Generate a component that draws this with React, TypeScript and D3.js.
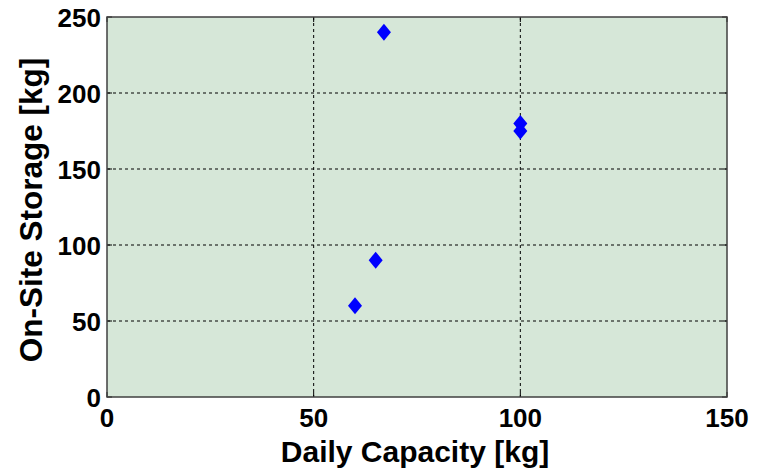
import React from "react";
import * as d3 from "d3";

const capacity = [60, 65, 67, 100, 100];
const storage = [60, 90, 240, 180, 175];
const xTicks = [0, 50, 100, 150];
const yTicks = [0, 50, 100, 150, 200, 250];

const W = 766;
const H = 469;
const M = { left: 107, right: 727, top: 17, bottom: 397 };
const FONT = "'Liberation Sans', Arial, sans-serif";

export default function App() {
  const x = d3.scaleLinear().domain([0, 150]).range([M.left, M.right]);
  const y = d3.scaleLinear().domain([0, 250]).range([M.bottom, M.top]);
  const diamond = (cx: number, cy: number) =>
    `M${cx},${cy - 8.5}L${cx + 7},${cy}L${cx},${cy + 8.5}L${cx - 7},${cy}Z`;
  return (
    <svg width={W} height={H} style={{ position: "absolute", left: 0, top: 0 }}>
      <rect x={0} y={0} width={W} height={H} fill="#ffffff" />
      <rect
        x={M.left}
        y={M.top}
        width={M.right - M.left}
        height={M.bottom - M.top}
        fill="#d6e7d8"
      />
      {xTicks.slice(1, -1).map((t) => (
        <line
          key={"gx" + t}
          x1={x(t)}
          x2={x(t)}
          y1={M.top}
          y2={M.bottom}
          stroke="#000"
          strokeWidth={1}
          strokeDasharray="3,3"
        />
      ))}
      {yTicks.slice(1, -1).map((t) => (
        <line
          key={"gy" + t}
          x1={M.left}
          x2={M.right}
          y1={y(t)}
          y2={y(t)}
          stroke="#000"
          strokeWidth={1}
          strokeDasharray="3,3"
        />
      ))}
      {xTicks.map((t) => (
        <g key={"tx" + t}>
          <line x1={x(t)} x2={x(t)} y1={M.bottom} y2={M.bottom - 5} stroke="#000" />
          <line x1={x(t)} x2={x(t)} y1={M.top} y2={M.top + 5} stroke="#000" />
          <text
            x={x(t)}
            y={427}
            textAnchor="middle"
            fontFamily={FONT}
            fontWeight="bold"
            fontSize={26}
            fill="#000"
          >
            {t}
          </text>
        </g>
      ))}
      {yTicks.map((t) => (
        <g key={"ty" + t}>
          <line x1={M.left} x2={M.left + 5} y1={y(t)} y2={y(t)} stroke="#000" />
          <line x1={M.right} x2={M.right - 5} y1={y(t)} y2={y(t)} stroke="#000" />
          <text
            x={M.left - 6}
            y={y(t) + 9.5}
            textAnchor="end"
            fontFamily={FONT}
            fontWeight="bold"
            fontSize={26}
            fill="#000"
          >
            {t}
          </text>
        </g>
      ))}
      <rect
        x={M.left}
        y={M.top}
        width={M.right - M.left}
        height={M.bottom - M.top}
        fill="none"
        stroke="#404040"
        strokeWidth={1.5}
      />
      {capacity.map((c, i) => (
        <path key={"p" + i} d={diamond(x(c), y(storage[i]))} fill="#0000ff" />
      ))}
      <text
        x={415}
        y={462}
        textAnchor="middle"
        fontFamily={FONT}
        fontWeight="bold"
        fontSize={30}
        fill="#000"
      >
        Daily Capacity [kg]
      </text>
      <text
        transform={`translate(42,210) rotate(-90)`}
        textAnchor="middle"
        fontFamily={FONT}
        fontWeight="bold"
        fontSize={31.5}
        fill="#000"
      >
        On-Site Storage [kg]
      </text>
    </svg>
  );
}
